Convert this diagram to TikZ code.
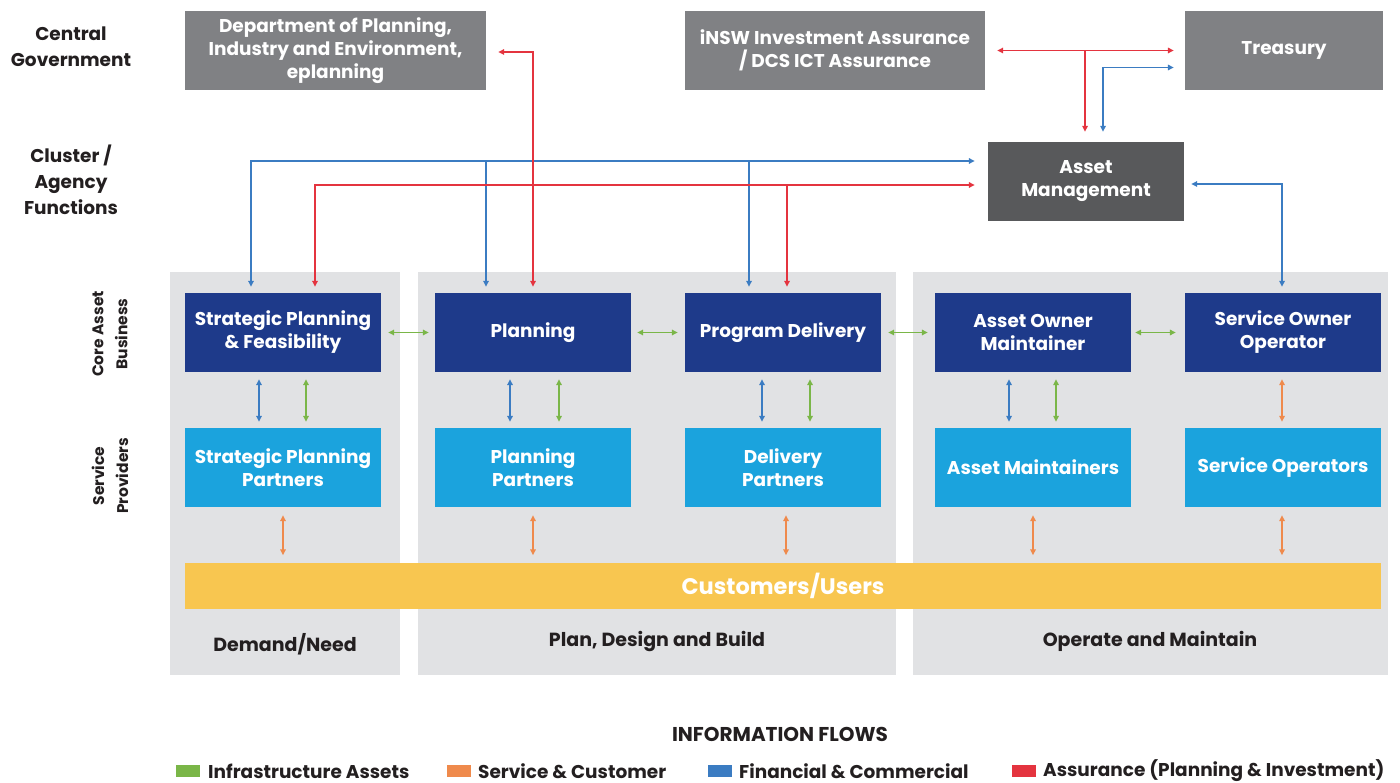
\documentclass[tikz,border=0pt]{standalone}
\usepackage{fontspec}
\setmainfont{Poppins}
\usetikzlibrary{arrows.meta}

\definecolor{govgray}{HTML}{808184}
\definecolor{amgray}{HTML}{58595B}
\definecolor{colbg}{HTML}{E1E2E4}
\definecolor{navy}{HTML}{1E3A8A}
\definecolor{sky}{HTML}{1BA3DD}
\definecolor{sun}{HTML}{F8C650}
\definecolor{flowgreen}{HTML}{7AB648}
\definecolor{floworange}{HTML}{EF8A4C}
\definecolor{flowblue}{HTML}{3B7CC2}
\definecolor{flowred}{HTML}{E4343F}
\definecolor{ink}{HTML}{231F20}

\tikzset{
  >={Triangle[length=6pt,width=5.5pt]},
  boxtext/.style={font=\fontsize{18.5}{23}\selectfont\bfseries, text=white, align=center},
  govbox/.style={rectangle, fill=govgray, inner sep=0pt, minimum height=79pt, boxtext},
  ambox/.style={rectangle, fill=amgray, inner sep=0pt, minimum width=196pt, minimum height=79pt, boxtext},
  corebox/.style={rectangle, fill=navy, inner sep=0pt, minimum width=196pt, minimum height=79pt, boxtext},
  partbox/.style={rectangle, fill=sky, inner sep=0pt, minimum width=196pt, minimum height=79pt, boxtext},
  sidelabel/.style={font=\fontsize{18.5}{26}\selectfont\bfseries, text=ink, align=center},
  rotlabel/.style={font=\fontsize{15.5}{24}\selectfont\bfseries, text=ink, align=center, rotate=90},
  phaselabel/.style={font=\fontsize{19}{22}\selectfont\bfseries, text=ink},
  flow/.style={line width=1.6pt},
  gflow/.style={flow, draw=flowgreen},
  oflow/.style={flow, draw=floworange},
  bflow/.style={flow, draw=flowblue},
  rflow/.style={flow, draw=flowred},
  legendtext/.style={font=\fontsize{18.5}{22}\selectfont\bfseries, text=ink, anchor=west, inner sep=0pt},
}

\begin{document}
\begin{tikzpicture}[x=1pt, y=-1pt]
\useasboundingbox (0,0) rectangle (1400,783);

% phase columns
\fill[colbg] (170,272) rectangle (400,675);
\fill[colbg] (418,272) rectangle (896,675);
\fill[colbg] (913,272) rectangle (1388,675);

% row labels
\node[sidelabel] (lcg) at (71,47) {Central\\Government};
\node[sidelabel] (lca) at (71,180) {Cluster /\\Agency\\Functions};
\node[rotlabel] (lcore) at (110,334) {Core Asset\\Business};
\node[rotlabel] (lsp) at (110,476) {Service\\Providers};

% government and cluster boxes
\node[govbox, minimum width=301pt] (dept) at (335.5,50.5) {Department of Planning,\\Industry and Environment,\\eplanning};
\node[govbox, minimum width=300pt] (insw) at (835,50.5) {iNSW Investment Assurance\\/ DCS ICT Assurance};
\node[govbox, minimum width=198pt] (treas) at (1284,50.5) {Treasury};
\node[ambox] (am) at (1086,181.5) {Asset\\Management};

% core asset business
\node[corebox] (spf) at (283,332.5) {Strategic Planning\\\& Feasibility};
\node[corebox] (plan) at (533,332.5) {Planning};
\node[corebox] (pd) at (783,332.5) {Program Delivery};
\node[corebox] (aom) at (1033,332.5) {Asset Owner\\Maintainer};
\node[corebox] (soo) at (1283,332.5) {Service Owner\\Operator};

% service providers
\node[partbox] (spp) at (283,467.5) {Strategic Planning\\Partners};
\node[partbox] (pp) at (533,467.5) {Planning\\Partners};
\node[partbox] (dp) at (783,467.5) {Delivery\\Partners};
\node[partbox] (amt) at (1033,467.5) {Asset Maintainers};
\node[partbox] (so) at (1283,467.5) {Service Operators};

% customers bar
\node[rectangle, fill=sun, minimum width=1196pt, minimum height=46pt, inner sep=0pt,
      font=\fontsize{22.5}{26}\selectfont\bfseries, text=white] (cust) at (783,585.5) {Customers/Users};

% phase names
\node[phaselabel] (ph1) at (285,644) {Demand/Need};
\node[phaselabel] (ph2) at (657,641) {Plan, Design and Build};
\node[phaselabel] (ph3) at (1150,641) {Operate and Maintain};

% bus levels
\coordinate (bbus) at (0,161);
\coordinate (rbus) at (0,185);

% branch points on the core boxes
\path ([xshift=-32pt]spf.north) coordinate (spfB)
      ([xshift=32pt]spf.north) coordinate (spfR)
      ([xshift=-47pt]plan.north) coordinate (planB)
      ([xshift=-34pt]pd.north) coordinate (pdB)
      ([xshift=4pt]pd.north) coordinate (pdR)
      ([xshift=-1pt]am.north) coordinate (amR)
      ([xshift=17pt]am.north) coordinate (amB);

% financial & commercial bus to asset management
\draw[bflow,<->,shorten <=6pt,shorten >=13pt] (spfB) |- (am.west |- bbus);
\draw[bflow,->,shorten >=6pt] (planB |- bbus) -- (planB);
\draw[bflow,->,shorten >=6pt] (pdB |- bbus) -- (pdB);

% assurance bus to asset management
\draw[rflow,<->,shorten <=6pt,shorten >=13pt] (spfR) |- (am.west |- rbus);
\draw[rflow,->,shorten >=6pt] (pdR |- rbus) -- (pdR);

% planning to department
\draw[rflow,<->,shorten <=12pt,shorten >=6pt] ([yshift=-1.5pt]dept.east) -| (plan.north);

% central agencies
\draw[rflow,<->,shorten <=12pt,shorten >=11pt] (insw.east) -- (treas.west);
\draw[rflow,->,shorten >=10pt] (amR |- insw.east) -- (amR);
\draw[bflow,<->,shorten <=11pt,shorten >=10pt] ([yshift=-17pt]treas.west) -| (amB);

% asset management to service owner
\draw[bflow,<->,shorten <=7pt,shorten >=6pt] ([yshift=-2.5pt]am.east) -| ([xshift=-1pt]soo.north);

% core business chain
\draw[gflow,<->,shorten <=7pt,shorten >=6pt] (spf.east) -- (plan.west);
\draw[gflow,<->,shorten <=6pt,shorten >=7pt] (plan.east) -- (pd.west);
\draw[gflow,<->,shorten <=7pt,shorten >=7pt] (pd.east) -- (aom.west);
\draw[gflow,<->,shorten <=4pt,shorten >=9pt] (aom.east) -- (soo.west);

% core to partners
\draw[bflow,<->,shorten <=7pt,shorten >=6pt] ([xshift=-24pt]spf.south) -- ([xshift=-24pt]spp.north);
\draw[gflow,<->,shorten <=7pt,shorten >=6pt] ([xshift=23pt]spf.south) -- ([xshift=23pt]spp.north);
\draw[bflow,<->,shorten <=7pt,shorten >=6pt] ([xshift=-23pt]plan.south) -- ([xshift=-23pt]pp.north);
\draw[gflow,<->,shorten <=7pt,shorten >=6pt] ([xshift=26pt]plan.south) -- ([xshift=26pt]pp.north);
\draw[bflow,<->,shorten <=7pt,shorten >=6pt] ([xshift=-21pt]pd.south) -- ([xshift=-21pt]dp.north);
\draw[gflow,<->,shorten <=7pt,shorten >=6pt] ([xshift=27pt]pd.south) -- ([xshift=27pt]dp.north);
\draw[bflow,<->,shorten <=7pt,shorten >=6pt] ([xshift=-24pt]aom.south) -- ([xshift=-24pt]amt.north);
\draw[gflow,<->,shorten <=7pt,shorten >=6pt] ([xshift=23pt]aom.south) -- ([xshift=23pt]amt.north);
\draw[oflow,<->,shorten <=7pt,shorten >=6pt] ([xshift=-1pt]soo.south) -- ([xshift=-1pt]so.north);

% partners to customers
\draw[oflow,<->,shorten <=8pt,shorten >=7pt] (spp.south) -- (spp.south |- cust.north);
\draw[oflow,<->,shorten <=8pt,shorten >=7pt] (pp.south) -- (pp.south |- cust.north);
\draw[oflow,<->,shorten <=8pt,shorten >=7pt] ([xshift=3pt]dp.south) -- ([xshift=3pt]dp.south |- cust.north);
\draw[oflow,<->,shorten <=8pt,shorten >=7pt] (amt.south) -- (amt.south |- cust.north);
\draw[oflow,<->,shorten <=8pt,shorten >=7pt] ([xshift=-1pt]so.south) -- ([xshift=-1pt]so.south |- cust.north);

% legend
\node[font=\fontsize{20}{24}\selectfont\bfseries, text=ink] (lgtitle) at (780,734) {INFORMATION FLOWS};
\fill[flowgreen] (176,765) rectangle (200,777);
\node[legendtext] (lg1) at (208,771) {Infrastructure Assets};
\fill[floworange] (447,765) rectangle (471,777);
\node[legendtext] (lg2) at (478,771) {Service \& Customer};
\fill[flowblue] (708,765) rectangle (732,777);
\node[legendtext] (lg3) at (739,771) {Financial \& Commercial};
\fill[flowred] (1012,765) rectangle (1036,777);
\node[legendtext] (lg4) at (1043,771) {Assurance (Planning \& Investment)};
\end{tikzpicture}
\end{document}
